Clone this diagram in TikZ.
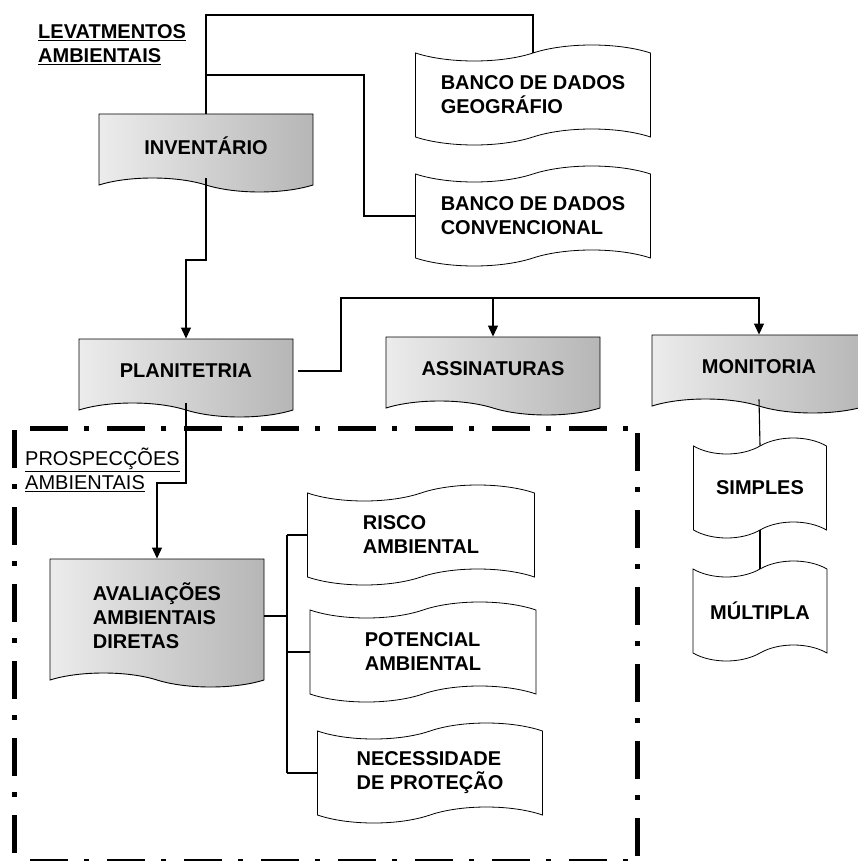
\documentclass[tikz,border=0pt]{standalone}
\usepackage{fontspec}
\setmainfont{Liberation Sans}
\usepackage{xcolor}
\definecolor{boxlight}{RGB}{236,236,236}
\definecolor{boxdark}{RGB}{182,182,182}
\usetikzlibrary{arrows.meta, shapes.symbols}

\tikzset{
  docbox/.style={tape, tape bend top=none, tape bend bottom=out and in,
    tape bend height=14pt, draw=black, line width=0.9pt,
    left color=boxlight, right color=boxdark, minimum width=214pt,
    minimum height=78pt, align=left,
    font=\fontsize{20}{24}\selectfont\bfseries},
  tapebox/.style={tape, tape bend height=16pt, draw=black, line width=0.8pt,
    fill=white, minimum height=100pt, align=left,
    font=\fontsize{20}{24}\selectfont\bfseries},
  conn/.style={line width=1.1pt},
  frame/.style={line width=5pt, dash pattern=on 38pt off 16pt on 5pt off 18pt}
}

\begin{document}
\begin{tikzpicture}[x=1pt, y=-1pt, >={Triangle[length=11pt, width=10pt]}]
\useasboundingbox (0,0) rectangle (858,861);

% === Titulos ===
\node[anchor=north west, inner sep=0pt, align=left,
  font=\fontsize{20}{24}\selectfont\bfseries] (lev) at (38,24)
  {\underline{LEVATMENTOS}\\\underline{AMBIENTAIS}};
\node[anchor=north west, inner sep=0pt, align=left,
  font=\fontsize{20}{24}\selectfont] (prosp) at (25,448)
  {\underline{PROSPECÇÕES}\\\underline{AMBIENTAIS}};

% === Caixas sombreadas ===
\node[docbox] (inv) at (206,146) {INVENTÁRIO};
\node[docbox] (plan) at (186,371) {PLANITETRIA};
\node[docbox] (ass) at (493,369) {ASSINATURAS};
\node[docbox] (mon) at (759,367) {MONITORIA};
\node[docbox, minimum height=128pt] (aval) at (157,616)
  {AVALIAÇÕES\\AMBIENTAIS\\DIRETAS};

% === Fitas (bancos e resultados) ===
\node[tapebox, minimum width=235pt] (geo) at (533,95)
  {BANCO DE DADOS\\GEOGRÁFIO};
\node[tapebox, minimum width=235pt] (conv) at (533,216)
  {BANCO DE DADOS\\CONVENCIONAL};
\node[tapebox, minimum width=227pt] (risco) at (421,535)
  {RISCO\\AMBIENTAL};
\node[tapebox, minimum width=226pt] (pot) at (423,652)
  {POTENCIAL\\AMBIENTAL};
\node[tapebox, minimum width=225pt] (nec) at (430,773)
  {NECESSIDADE\\DE PROTEÇÃO};
\node[tapebox, minimum width=133pt] (simp) at (760,488) {SIMPLES};
\node[tapebox, minimum width=134pt] (mult) at (760,611) {MÚLTIPLA};

% === Ligacoes ===
\coordinate (topo) at (0,15);
\coordinate (ramo) at (364,75);
\coordinate (jog1) at (0,260);
\coordinate (barra) at (341,298);
\coordinate (jog2) at (0,483);
\coordinate (tronco) at (287,0);

\draw[conn] (inv.north) -- (inv.north |- topo) -| (geo.north);
\draw[conn] (inv.north |- ramo) -- (ramo) |- (conv.west);
\draw[conn, ->] (inv.south) -- (inv.south |- jog1) -| (plan.north);

\draw[conn, ->, shorten <=5pt] (plan.east) -| (barra) -| (mon.north);
\draw[conn, ->] (ass.north |- barra) -- (ass.north);
\draw[conn, ->] (plan.south) -- (plan.south |- jog2) -| (aval.north);

\draw[conn] (aval.east) -- (aval.east -| tronco);
\draw[conn] (risco.west -| tronco) -- (nec.west -| tronco);
\foreach \n in {risco, pot, nec}
  \draw[conn] (\n.west -| tronco) -- (\n.west);

\draw[conn] (mon.south) -- (simp.north);
\draw[conn] (simp.south) -- (mult.north);

% === Moldura traco-ponto ===
\draw[frame] (30,428) -- (632,428);
\draw[frame] (14,430) -- (14,861);
\draw[frame] (637,433) -- (637,861);
\draw[frame] (30,861) -- (632,861);

\end{tikzpicture}
\end{document}
